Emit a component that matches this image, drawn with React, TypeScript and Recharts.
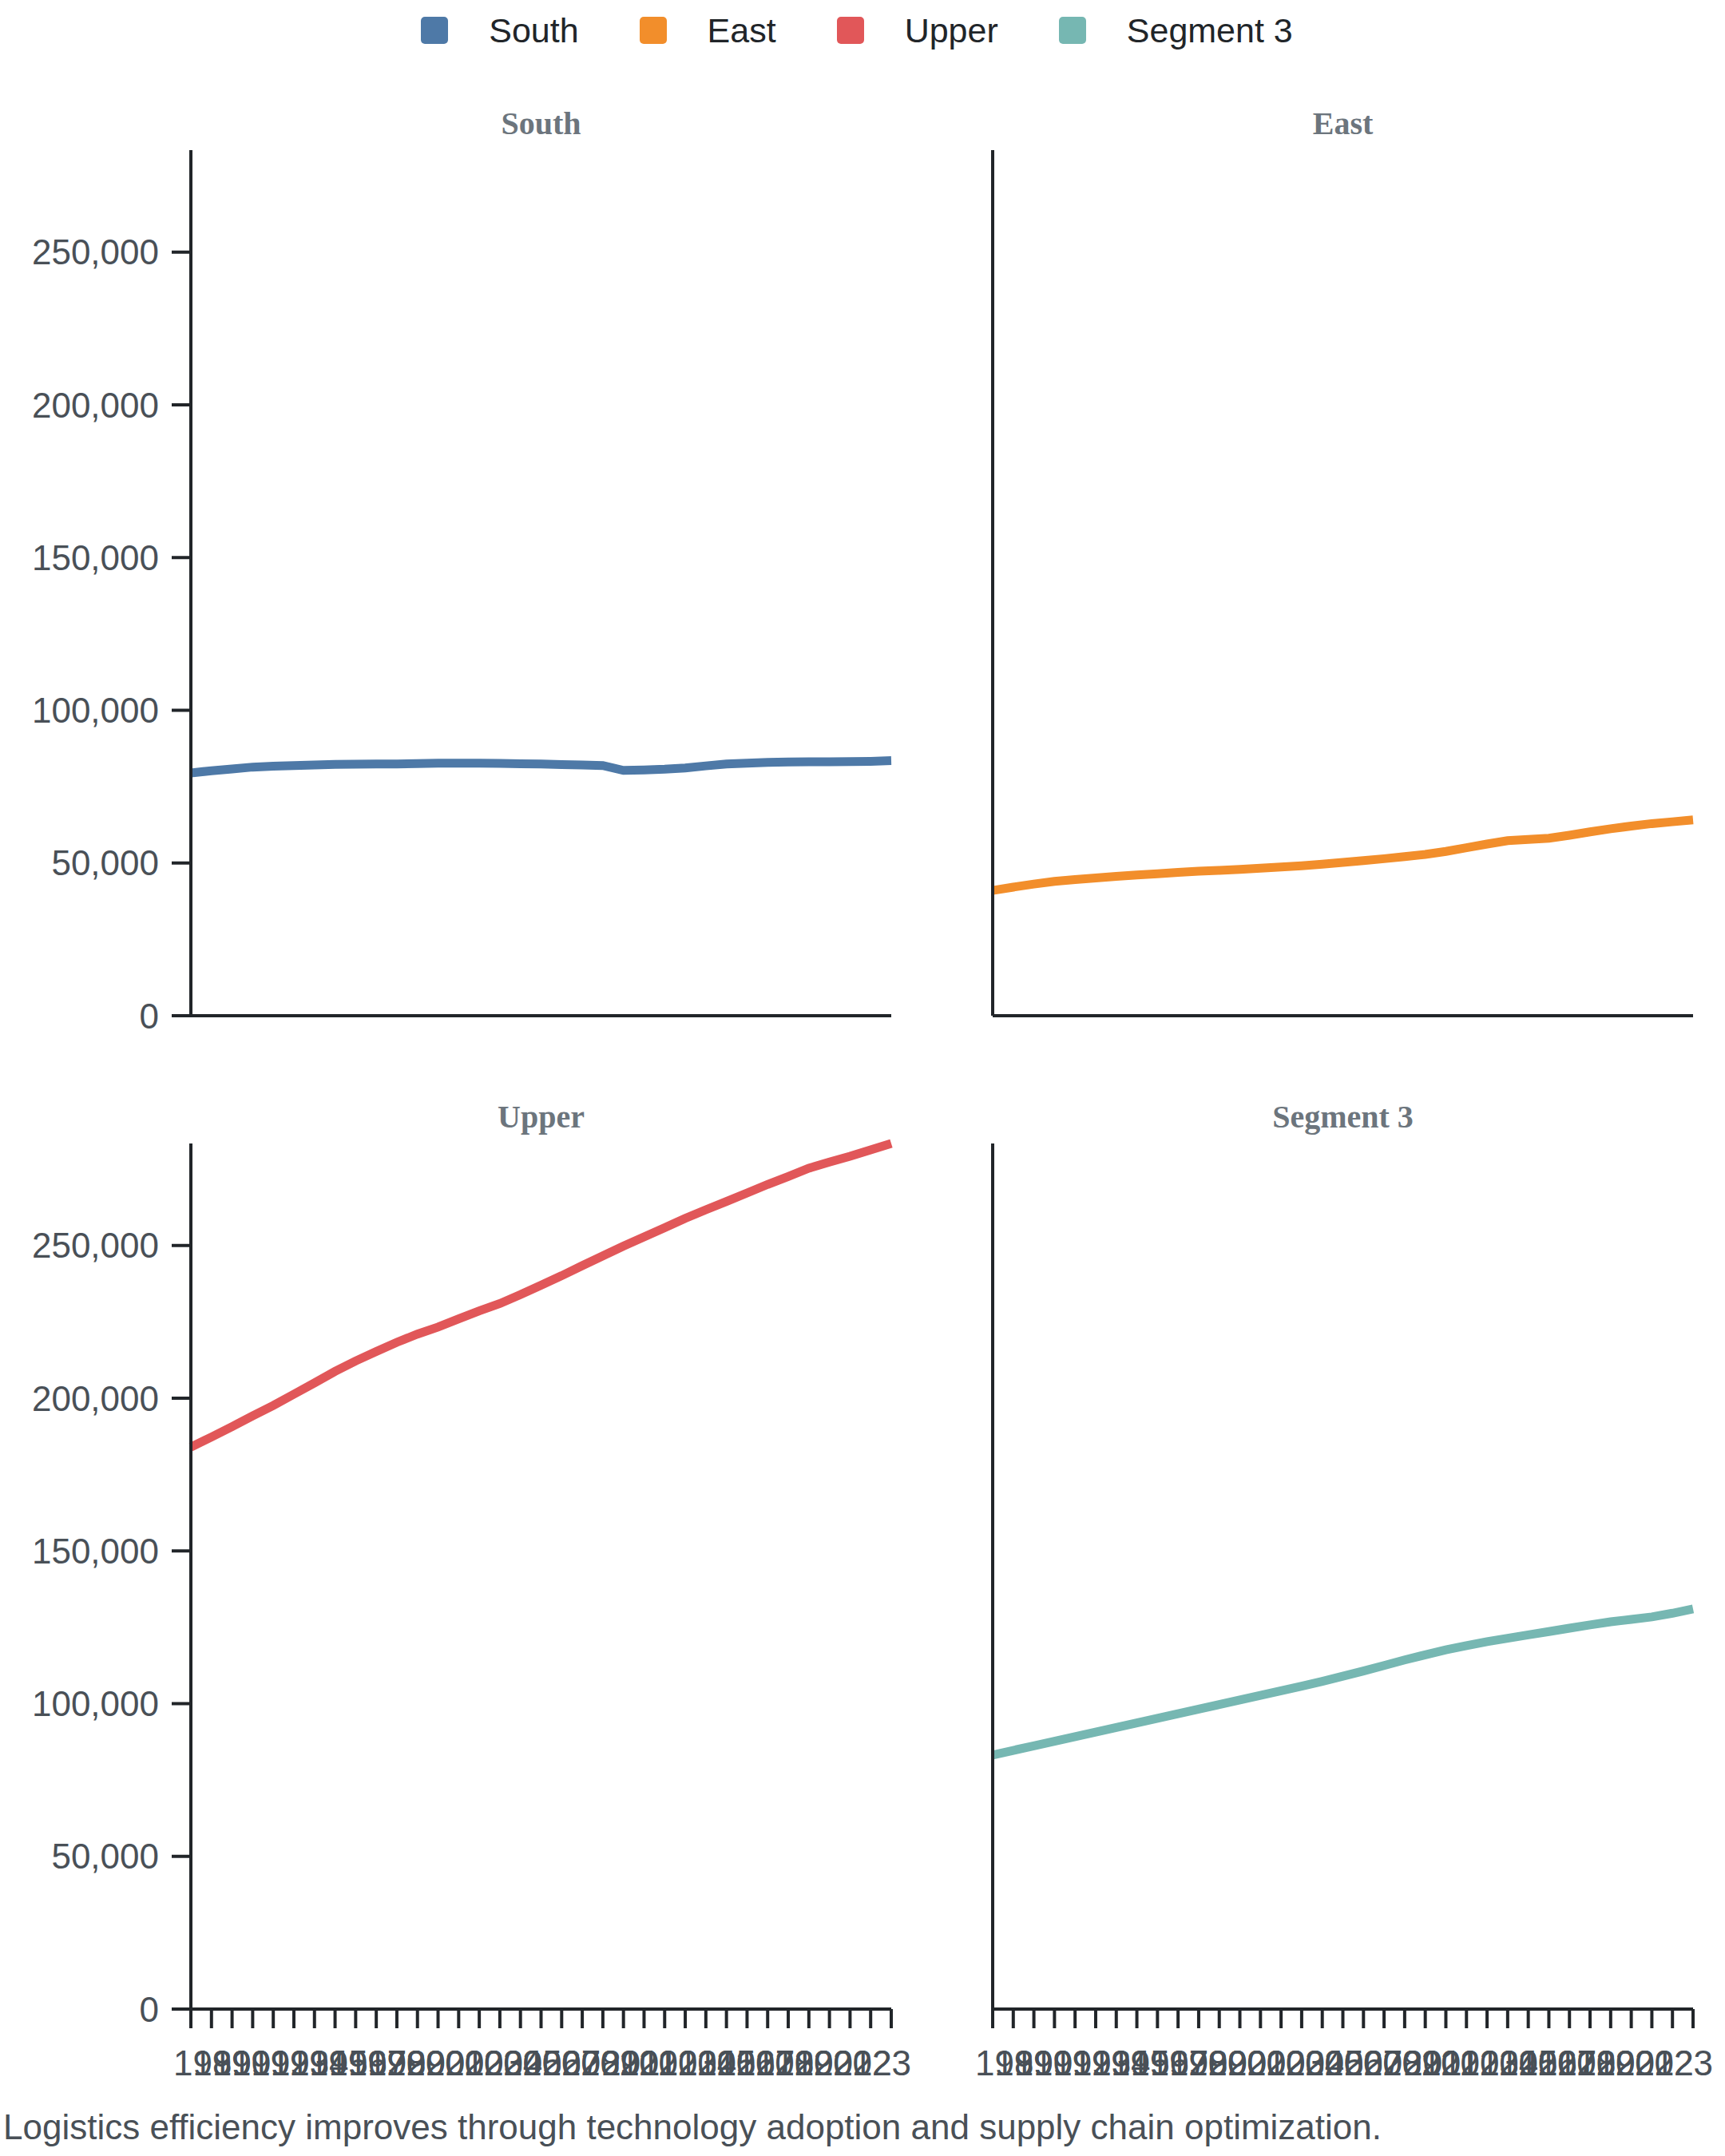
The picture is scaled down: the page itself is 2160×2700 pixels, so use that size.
import { LineChart, Line, XAxis, YAxis } from 'recharts';

const YEARS = [
  '1989', '1990', '1991', '1992', '1993', '1994', '1995', '1996', '1997', '1998',
  '1999', '2000', '2001', '2002', '2003', '2004', '2005', '2006', '2007', '2008',
  '2009', '2010', '2011', '2012', '2013', '2014', '2015', '2016', '2017', '2018',
  '2019', '2020', '2021', '2022', '2023',
];

const SOUTH = [
  79500, 80200, 80800, 81400, 81700, 81900, 82100, 82300, 82350, 82400,
  82450, 82550, 82650, 82700, 82650, 82600, 82500, 82400, 82250, 82100,
  81900, 80300, 80450, 80700, 81100, 81800, 82400, 82700, 82950, 83100,
  83150, 83150, 83200, 83300, 83500,
];

const EAST = [
  41000, 42100, 43100, 44000, 44600, 45100, 45600, 46100, 46500, 46900,
  47300, 47600, 47900, 48300, 48700, 49100, 49600, 50200, 50800, 51400,
  52100, 52800, 53800, 55000, 56200, 57300, 57700, 58100, 59100, 60200,
  61200, 62100, 62900, 63500, 64100,
];

const UPPER = [
  184000, 187300, 190700, 194200, 197600, 201300, 205000, 208800, 212200, 215300,
  218300, 221000, 223300, 226000, 228600, 231000, 233900, 237000, 240100, 243400,
  246600, 249800, 252800, 255800, 258900, 261700, 264400, 267200, 270000, 272600,
  275300, 277300, 279200, 281300, 283400,
];

const SEGMENT_3 = [
  83200, 84700, 86200, 87700, 89200, 90700, 92200, 93700, 95200, 96700,
  98200, 99700, 101200, 102700, 104200, 105700, 107300, 109000, 110700, 112500,
  114300, 116000, 117600, 119000, 120300, 121400, 122500, 123600, 124700, 125800,
  126800, 127600, 128400, 129600, 131000,
];

const Y_TICKS = [0, 50000, 100000, 150000, 200000, 250000];

const CAPTION = 'Logistics efficiency improves through technology adoption and supply chain optimization.';

const SERIES = [
  { key: 'south', name: 'South', color: '#4e79a7' },
  { key: 'east', name: 'East', color: '#f28e2b' },
  { key: 'upper', name: 'Upper', color: '#e15759' },
  { key: 'segment3', name: 'Segment 3', color: '#76b7b2' },
];

const rows = YEARS.map((year, i) => ({
  year,
  south: SOUTH[i],
  east: EAST[i],
  upper: UPPER[i],
  segment3: SEGMENT_3[i],
}));

// shared y scale, top = largest value in any panel
const Y_MAX = Math.max(...SOUTH, ...EAST, ...UPPER, ...SEGMENT_3);

const SANS = '"Liberation Sans", Arial, sans-serif';
const SERIF = '"Liberation Serif", "Times New Roman", serif';
const AXIS = '#212529';
const LABEL = '#495057';

const PLOT_H = 1084;
const MARGIN_TOP = 20;

// year labels: the end labels sit pulled in toward the plot, like the reference
function YearTick(props: any) {
  const { x, y, payload, index } = props;
  const last = YEARS.length - 1;
  const dx = 27 - (index / last) * 51;
  return (
    <text x={x + dx} y={y} dy="0.71em" textAnchor="middle" fontSize={44} fill={LABEL} fontFamily={SANS}>
      {payload.value}
    </text>
  );
}

function Panel({ idx }: { idx: number }) {
  const s = SERIES[idx];
  const col = idx % 2;
  const row = Math.floor(idx / 2);
  const left = col === 0 ? 0 : 1143;
  const width = col === 0 ? 1150 : 1016;
  const right = col === 0 ? 34 : 39;
  const yWidth = col === 0 ? 239 : 100;
  const top = row === 0 ? 168 : 1412;
  const xHeight = row === 0 ? 30 : 100;
  const height = MARGIN_TOP + PLOT_H + xHeight;
  const plotLeft = left + yWidth;
  const plotWidth = width - right - yWidth;
  const showYTicks = col === 0;
  const showXTicks = row === 1;

  return (
    <>
      <div
        style={{
          position: 'absolute',
          left: plotLeft,
          top: top - 33.5,
          width: plotWidth,
          textAlign: 'center',
          fontFamily: SERIF,
          fontWeight: 'bold',
          fontSize: 40,
          lineHeight: '40px',
          color: '#6c757d',
        }}
      >
        {s.name}
      </div>
      <div style={{ position: 'absolute', left, top }}>
        <LineChart width={width} height={height} data={rows} margin={{ top: MARGIN_TOP, right, left: 0, bottom: 0 }}>
          <XAxis
            dataKey="year"
            interval={0}
            height={xHeight}
            axisLine={{ stroke: AXIS, strokeWidth: 4 }}
            tickLine={showXTicks ? { stroke: AXIS, strokeWidth: 4 } : false}
            tickSize={24}
            tickMargin={28}
            tick={showXTicks ? YearTick : false}
          />
          <YAxis
            width={yWidth}
            domain={[0, Y_MAX]}
            ticks={Y_TICKS}
            axisLine={{ stroke: AXIS, strokeWidth: 4 }}
            tickLine={showYTicks ? { stroke: AXIS, strokeWidth: 4 } : false}
            tickSize={24}
            tickMargin={16}
            tick={showYTicks ? { fontSize: 44, fill: LABEL, fontFamily: SANS } : false}
            tickFormatter={(v) => Number(v).toLocaleString('en-US')}
          />
          <Line
            type="linear"
            dataKey={s.key}
            stroke={s.color}
            strokeWidth={11}
            dot={false}
            activeDot={false}
            isAnimationActive={false}
          />
        </LineChart>
      </div>
    </>
  );
}

export default function App() {
  return (
    <div style={{ position: 'absolute', left: 0, top: 0, width: 2160, height: 2700, background: '#fff', fontFamily: SANS }}>
      {/* legend */}
      <div
        style={{
          position: 'absolute',
          left: -7,
          top: 16.6,
          width: 2160,
          height: 43,
          display: 'flex',
          justifyContent: 'center',
          alignItems: 'center',
          fontSize: 43,
          lineHeight: '43px',
          color: '#212529',
        }}
      >
        {SERIES.map((s, i) => (
          <div key={s.key} style={{ display: 'flex', alignItems: 'center', marginRight: i < SERIES.length - 1 ? 76 : 0 }}>
            <span style={{ display: 'inline-block', width: 34, height: 34, borderRadius: 5, background: s.color, marginRight: 51 }} />
            <span>{s.name}</span>
          </div>
        ))}
      </div>

      {SERIES.map((s, i) => (
        <Panel key={s.key} idx={i} />
      ))}

      <div
        style={{
          position: 'absolute',
          left: 4,
          top: 2642,
          fontSize: 44,
          lineHeight: '44px',
          color: LABEL,
          whiteSpace: 'nowrap',
        }}
      >
        {CAPTION}
      </div>
    </div>
  );
}
